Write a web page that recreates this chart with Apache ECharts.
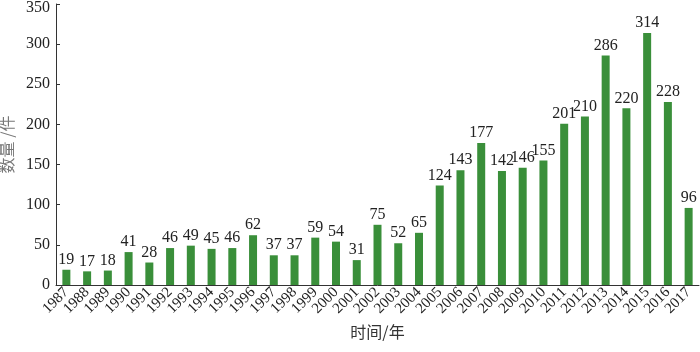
<!DOCTYPE html>
<html><head><meta charset="utf-8">
<script src="https://cdn.jsdelivr.net/npm/echarts@6/dist/echarts.min.js"></script>
<style>html,body{margin:0;padding:0;background:#fff}#c{width:700px;height:352px}</style>
</head><body><div id="c"></div>
<script>
const years = ['1987','1988','1989','1990','1991','1992','1993','1994','1995','1996','1997','1998','1999','2000','2001','2002','2003','2004','2005','2006','2007','2008','2009','2010','2011','2012','2013','2014','2015','2016','2017'];
const counts = [19,17,18,41,28,46,49,45,46,62,37,37,59,54,31,75,52,65,124,143,177,142,146,155,201,210,286,220,314,228,96];
const yTicks = [0,50,100,150,200,250,300,350];

const serif = '"Liberation Serif","DejaVu Serif",serif';
const chart = echarts.init(document.getElementById('c'));
chart.setOption({
  animation: false,
  grid: {left: 56, right: 1, top: 4, bottom: 67, containLabel: false, outerBoundsMode: 'none'},
  xAxis: {
    type: 'category', data: years,
    name: '时间/年', nameLocation: 'middle', nameGap: 38,
    nameTextStyle: {fontFamily: '"Noto Sans CJK SC",' + serif, fontSize: 16, color: '#333'},
    axisLine: {lineStyle: {color: '#333', width: 1}},
    axisTick: {inside: true, length: 3, alignWithLabel: false, lineStyle: {color: '#333'}},
    axisLabel: {rotate: 45, interval: 0, fontFamily: serif, fontSize: 15, color: '#222', margin: 5}
  },
  yAxis: {
    type: 'value', min: 0, max: 350, interval: 50,
    name: '数量 /件', nameLocation: 'middle', nameGap: 38, nameRotate: 90,
    nameTextStyle: {fontFamily: '"Noto Sans CJK SC",' + serif, fontSize: 16, color: '#777'},
    axisLine: {show: true, lineStyle: {color: '#333', width: 1}},
    axisTick: {show: true, inside: true, length: 4, lineStyle: {color: '#333'}},
    splitLine: {show: false},
    axisLabel: {fontFamily: serif, fontSize: 16, color: '#222', margin: 6,
      formatter: v => v === 350 ? '{t|350}' : (yTicks.includes(v) ? String(v) : ''),
      rich: {t: {fontFamily: serif, fontSize: 16, color: '#222', padding: [8, 0, 0, 0]}}}
  },
  series: [{
    type: 'bar', data: counts, barWidth: 8,
    itemStyle: {color: '#3a8f3a'},
    label: {show: true, position: 'top', distance: 2, fontFamily: serif, fontSize: 16, color: '#222'}
  }]
});
</script></body></html>
